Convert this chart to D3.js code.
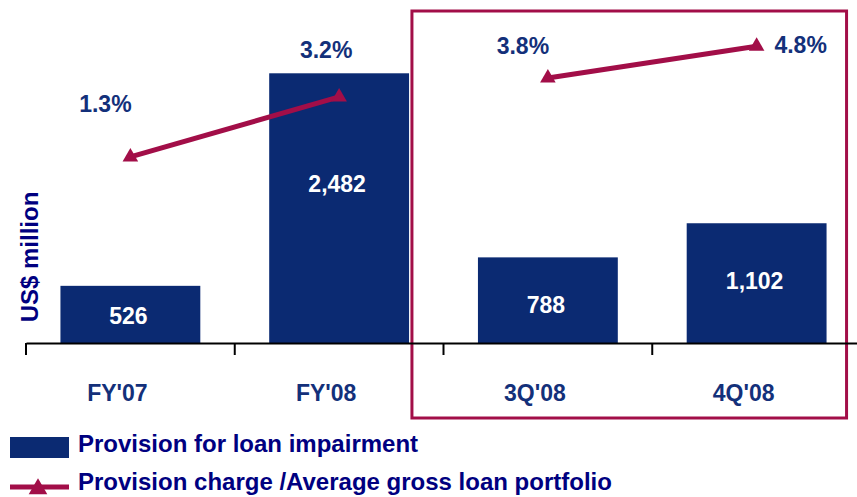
<!DOCTYPE html>
<html>
<head>
<meta charset="utf-8">
<script src="https://cdn.jsdelivr.net/npm/d3@7"></script>
<style>
  body { margin: 0; background: #fff; }
  svg { display: block; font-family: "Liberation Sans", Arial, sans-serif; font-weight: bold; }
</style>
</head>
<body>
<div id="chart"></div>
<script>
// data
var categories = ["FY'07", "FY'08", "3Q'08", "4Q'08"];
var provisions = [526, 2482, 788, 1102];          // US$ million
var provisionRatio = [1.3, 3.2, 3.8, 4.8];        // % of average gross loans
var ratioLabels = ["1.3%", "3.2%", "3.8%", "4.8%"];
var lineGroups = [["FY'07", "FY'08"], ["3Q'08", "4Q'08"]];
var legendLabels = ["Provision for loan impairment", "Provision charge /Average gross loan portfolio"];

var width = 857, height = 497;
var barColor = "#0b2a72", lineColor = "#a20e48", textBlue = "#13307a", navy = "#000080";
var baseY = 343;

var svg = d3.select("#chart").append("svg")
  .attr("width", width)
  .attr("height", height);

var x = d3.scaleBand()
  .domain(categories)
  .range([26, 861])
  .paddingInner(0.33)
  .paddingOuter(0.165);

var y = d3.scaleLinear().domain([0, 3000]).range([baseY, 17]);
var y2 = d3.scaleLinear().domain([0, 5]).range([198, 40]);

// highlight box round the quarters
var boxL = x("3Q'08") - 66, boxR = x("4Q'08") + x.bandwidth() + 20;
svg.append("rect")
  .attr("x", boxL).attr("y", 11)
  .attr("width", boxR - boxL).attr("height", 407)
  .attr("fill", "none")
  .attr("stroke", lineColor)
  .attr("stroke-width", 3);

// bars
svg.selectAll(".bar")
  .data(categories)
  .enter().append("rect")
  .attr("class", "bar")
  .attr("x", function(d) { return x(d); })
  .attr("y", function(d, i) { return y(provisions[i]); })
  .attr("width", x.bandwidth())
  .attr("height", function(d, i) { return baseY - y(provisions[i]); })
  .attr("fill", barColor);

// bar value labels (the tall one sits higher up)
var valDy = [10, -16, 13, 6];
svg.selectAll(".val")
  .data(categories)
  .enter().append("text")
  .attr("x", function(d) { return x(d) + x.bandwidth() / 2 - 2; })
  .attr("y", function(d, i) { return (y(provisions[i]) + baseY) / 2 + valDy[i]; })
  .attr("text-anchor", "middle")
  .attr("fill", "#fff")
  .style("font-size", "23px")
  .text(function(d, i) { return d3.format(",")(provisions[i]); });

// x axis
var xAxis = svg.append("g")
  .attr("transform", "translate(0," + baseY + ")")
  .call(d3.axisBottom(x).tickSize(0).tickSizeOuter(0).tickPadding(42));
xAxis.select(".domain").attr("stroke", "#000").attr("stroke-width", 2);
xAxis.selectAll("text")
  .attr("dx", -13)
  .attr("fill", textBlue)
  .style("font-size", "23px")
  .style("font-family", "Liberation Sans, Arial, sans-serif")
  .style("font-weight", "bold");

// ticks between the bands
var step = x.step();
svg.selectAll(".btick")
  .data(categories)
  .enter().append("line")
  .attr("x1", function(d) { return x(d) - x.paddingOuter() * step; })
  .attr("x2", function(d) { return x(d) - x.paddingOuter() * step; })
  .attr("y1", baseY)
  .attr("y2", baseY + 12)
  .attr("stroke", "#000")
  .attr("stroke-width", 2);

// y axis title
svg.append("text")
  .attr("transform", "translate(38,257) rotate(-90)")
  .attr("text-anchor", "middle")
  .attr("fill", navy)
  .style("font-size", "24px")
  .text("US$ million");

// ratio line, drawn per period
var cx = function(c) { return x(c) + x.bandwidth() / 2; };
var cy = function(c) { return y2(provisionRatio[categories.indexOf(c)]); };
var line = d3.line().x(cx).y(cy);

svg.selectAll(".ratio")
  .data(lineGroups)
  .enter().append("path")
  .attr("d", line)
  .attr("fill", "none")
  .attr("stroke", lineColor)
  .attr("stroke-width", 5);

var tri = d3.symbol().type(d3.symbolTriangle).size(105);
svg.selectAll(".mark")
  .data(categories)
  .enter().append("path")
  .attr("d", tri)
  .attr("transform", function(d) { return "translate(" + cx(d) + "," + cy(d) + ")"; })
  .attr("fill", lineColor);

// ratio labels
var labDx = [-25, -13, -25, 44];
var labDy = [-45, -39, -24, 7];
svg.selectAll(".pct")
  .data(categories)
  .enter().append("text")
  .attr("x", function(d, i) { return cx(d) + labDx[i]; })
  .attr("y", function(d, i) { return cy(d) + labDy[i]; })
  .attr("text-anchor", "middle")
  .attr("fill", textBlue)
  .style("font-size", "23px")
  .text(function(d, i) { return ratioLabels[i]; });

// legend
var legend = svg.append("g");
legend.append("rect")
  .attr("x", 10).attr("y", 437)
  .attr("width", 59).attr("height", 21)
  .attr("fill", barColor);
legend.append("line")
  .attr("x1", 10).attr("x2", 69)
  .attr("y1", 487).attr("y2", 487)
  .attr("stroke", lineColor)
  .attr("stroke-width", 5);
legend.append("path")
  .attr("d", d3.symbol().type(d3.symbolTriangle).size(150))
  .attr("transform", "translate(38,489)")
  .attr("fill", lineColor);
legend.selectAll(".leg")
  .data(legendLabels)
  .enter().append("text")
  .attr("x", 78)
  .attr("y", function(d, i) { return 452 + i * 38; })
  .attr("fill", navy)
  .style("font-size", "24px")
  .text(function(d) { return d; });
</script>
</body>
</html>
